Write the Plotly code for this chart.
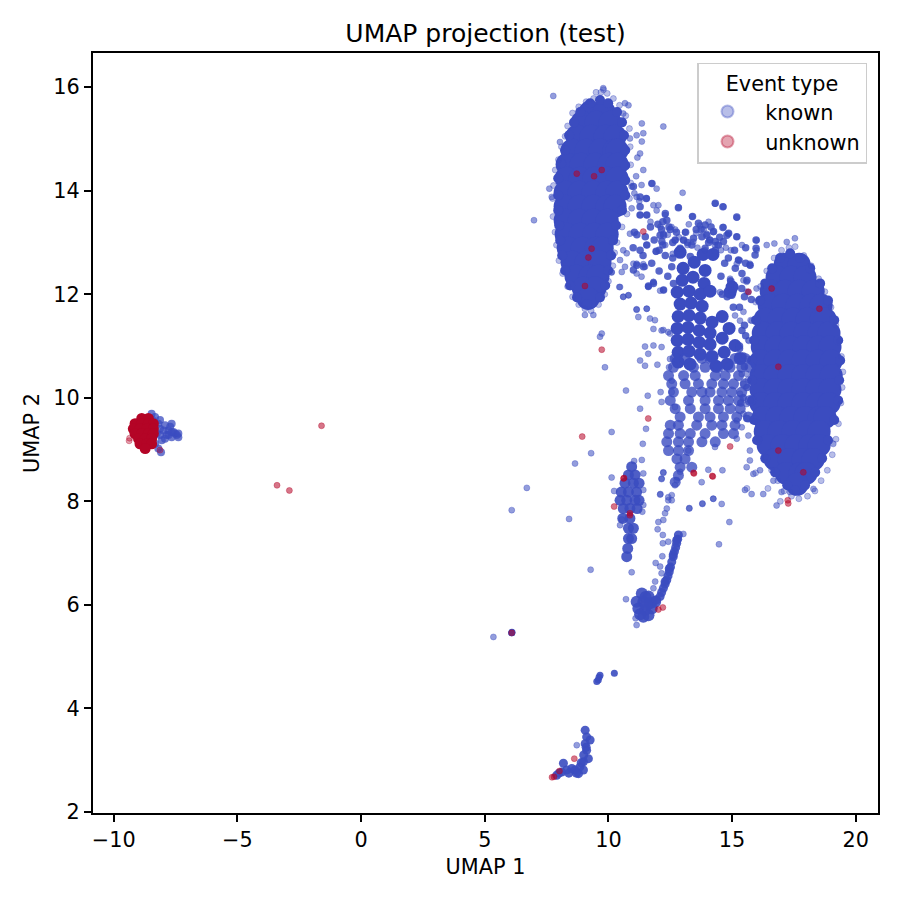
import plotly.graph_objects as go

TITLE = "UMAP projection (test)"
X_LABEL = "UMAP 1"
Y_LABEL = "UMAP 2"
LEGEND_TITLE = "Event type"
NAME_KNOWN = " \u200aknown"
NAME_UNKNOWN = " \u200aunknown"
X_TICKS = [-10, -5, 0, 5, 10, 15, 20]
Y_TICKS = [2, 4, 6, 8, 10, 12, 14, 16]

# dense upper cloud, read row by row
upper_rows_y = [15.52, 15.32, 15.05, 14.78, 14.51, 14.24, 13.97, 13.70, 13.43, 13.16, 12.89, 12.62, 12.35, 12.12, 11.92]
upper_rows_x = [
    [9.26, 9.83], [8.94, 9.50, 10.07], [8.73, 9.30, 9.87, 10.27], [8.53, 9.10, 9.66, 10.23, 10.35],
    [8.33, 8.90, 9.46, 10.03, 10.35], [8.29, 8.86, 9.42, 9.95, 10.35], [8.25, 8.82, 9.38, 9.95, 10.35],
    [8.25, 8.82, 9.38, 9.95, 10.27], [8.25, 8.82, 9.38, 9.95], [8.29, 8.86, 9.42, 9.95],
    [8.37, 8.94, 9.50, 9.75], [8.53, 9.10, 9.66], [8.69, 9.26, 9.58], [8.98, 9.46], [9.18],
]
upper_edge_x = [9.66, 9.26, 9.99, 8.86, 10.35, 8.61, 10.55, 8.41, 10.63, 8.25, 10.68, 8.09, 10.68, 7.97, 10.68, 7.97, 10.68, 7.97, 10.55, 8.01, 10.31, 8.05, 10.19, 8.13, 10.11, 8.25, 9.99, 8.45, 9.87, 8.73, 9.66, 9.14]
upper_edge_y = [15.75, 15.69, 15.69, 15.52, 15.52, 15.32, 15.32, 15.07, 15.07, 14.78, 14.78, 14.53, 14.49, 14.24, 14.20, 13.91, 13.91, 13.62, 13.62, 13.33, 13.33, 13.04, 13.04, 12.75, 12.75, 12.46, 12.46, 12.17, 12.17, 11.94, 11.94, 11.81]
upper_fringe_x = [9.5, 9.7, 9.8, 9.4, 9.1, 8.8, 8.55, 8.35, 8.25, 8.1, 7.98, 7.85, 7.78, 7.74, 7.76, 7.84, 7.9, 8.0, 8.15, 8.35, 8.55, 8.8, 9.05, 9.3, 9.6, 9.85, 10.0, 10.18, 10.25, 10.35, 10.55, 10.75, 10.85, 10.9, 10.9, 10.88, 10.85, 10.7, 10.45, 10.2, 9.95]
upper_fringe_y = [15.9, 15.9, 15.95, 15.78, 15.72, 15.62, 15.5, 15.25, 15.05, 14.85, 14.6, 14.4, 14.1, 13.85, 13.5, 13.2, 12.95, 12.65, 12.4, 12.15, 11.95, 11.8, 11.72, 11.68, 11.8, 12.0, 12.25, 12.55, 12.8, 13.0, 13.3, 13.55, 13.85, 14.15, 14.5, 14.85, 15.2, 15.45, 15.65, 15.78, 15.88]

# dense right cloud
right_rows_y = [12.58, 12.33, 12.06, 11.79, 11.52, 11.25, 10.98, 10.71, 10.43, 10.16, 9.89, 9.62, 9.35, 9.08, 8.81, 8.54, 8.33]
right_rows_x = [
    [17.15, 17.71], [16.82, 17.39, 17.95], [16.58, 17.15, 17.71, 18.28], [16.50, 17.06, 17.63, 18.20, 18.60],
    [16.34, 16.90, 17.47, 18.04, 18.60, 18.76], [16.26, 16.82, 17.39, 17.95, 18.52, 18.92],
    [16.22, 16.78, 17.35, 17.91, 18.48, 18.96], [16.17, 16.74, 17.31, 17.87, 18.44, 19.01],
    [16.17, 16.74, 17.31, 17.87, 18.44, 19.01], [16.17, 16.74, 17.31, 17.87, 18.44, 18.96],
    [16.17, 16.74, 17.31, 17.87, 18.44, 18.92], [16.26, 16.82, 17.39, 17.95, 18.52, 18.76],
    [16.34, 16.90, 17.47, 18.04, 18.52], [16.46, 17.02, 17.59, 18.16, 18.52], [16.74, 17.31, 17.87, 18.28],
    [17.19, 17.75, 17.99], [17.63],
]
right_edge_x = [17.35, 16.94, 17.75, 16.62, 18.16, 16.34, 18.56, 16.13, 18.88, 15.97, 19.13, 15.89, 19.29, 15.81, 19.37, 15.81, 19.33, 15.81, 19.29, 15.89, 19.13, 16.01, 18.88, 16.34, 18.64, 16.74, 18.36, 17.23, 17.95, 17.55]
right_edge_y = [12.79, 12.70, 12.70, 12.50, 12.50, 12.21, 12.21, 11.88, 11.88, 11.50, 11.50, 11.11, 11.11, 10.72, 10.72, 10.34, 10.34, 9.95, 9.95, 9.57, 9.57, 9.18, 9.18, 8.83, 8.83, 8.56, 8.56, 8.31, 8.31, 8.21]
right_fringe_x = [17.0, 17.3, 17.55, 17.9, 18.2, 18.5, 18.75, 19.0, 19.2, 19.35, 19.42, 19.48, 19.45, 19.4, 19.3, 19.2, 19.05, 18.85, 18.6, 18.35, 18.05, 17.7, 17.4, 17.1, 16.85, 16.6, 16.35, 16.1, 15.9, 15.75, 15.65, 15.62, 15.68, 15.75, 15.95, 16.15, 16.4, 16.7, 15.6, 15.95, 16.45, 16.95]
right_fringe_y = [12.85, 12.9, 12.92, 12.75, 12.55, 12.3, 12.05, 11.75, 11.4, 11.1, 10.8, 10.5, 10.2, 9.9, 9.5, 9.2, 8.9, 8.6, 8.4, 8.2, 8.1, 8.05, 8.1, 8.2, 8.4, 8.6, 8.85, 9.2, 9.55, 9.95, 10.35, 10.75, 11.1, 11.5, 11.85, 12.15, 12.45, 12.7, 8.25, 8.55, 8.25, 8.0]

# solid upper part of the central band
middle_solid_x = [12.90, 13.83, 14.23, 13.02, 13.47, 13.91, 12.98, 13.42, 13.87, 12.78, 13.26, 13.71, 14.11, 12.90, 13.34, 13.79, 12.82, 13.26, 13.71, 14.19, 12.78, 13.22, 13.67, 14.11, 14.60, 12.78, 13.22, 13.67, 14.11, 14.60, 12.82, 13.26, 13.71, 14.19, 14.68, 15.12, 12.82, 13.30, 14.35, 14.80, 15.33, 14.88, 14.92, 15.00]
middle_solid_y = [12.81, 12.77, 12.77, 12.50, 12.62, 12.46, 12.27, 12.33, 12.21, 12.04, 12.06, 12.00, 12.06, 11.81, 11.83, 11.77, 11.57, 11.59, 11.54, 11.46, 11.34, 11.36, 11.30, 11.25, 11.57, 11.11, 11.13, 11.07, 11.03, 11.15, 10.88, 10.90, 10.84, 10.80, 10.88, 11.01, 10.69, 10.65, 10.61, 10.65, 10.76, 11.34, 12.04, 12.14]

# blotchy lower part of the central band
middle_rows_y = [10.76, 10.59, 10.43, 10.27, 10.11, 9.95, 9.79, 9.63, 9.47, 9.31, 9.15, 8.98, 8.82, 8.66, 8.50, 8.37]
middle_rows_x = [
    [12.70, 13.10, 13.78, 14.11, 15.12, 15.53], [12.63, 13.44, 13.91, 14.45, 14.92, 15.39, 15.73],
    [12.43, 13.04, 13.51, 14.32, 14.72, 15.26], [12.56, 13.10, 13.64, 14.18, 14.65, 15.06, 15.53],
    [12.63, 13.37, 13.78, 14.11, 14.59, 14.99, 15.39], [12.50, 13.24, 13.91, 14.45, 14.85, 15.26, 15.73],
    [12.70, 13.31, 13.91, 14.45, 14.92, 15.33], [12.90, 13.64, 14.11, 14.65, 15.19, 15.66],
    [12.50, 12.83, 13.57, 14.18, 14.59, 15.12], [12.43, 12.90, 13.31, 13.91, 14.65, 15.06],
    [12.36, 12.83, 13.24, 13.78, 14.32], [12.43, 12.83, 13.24], [12.77, 13.10], [12.90, 13.37], [12.83], [12.70],
]

# thin strands between the two large clouds
strand_x = [11.76, 11.01, 11.28, 11.53, 11.28, 11.28, 11.55, 12.3, 12.36, 12.83, 14.32, 14.63, 15.19, 13.4, 13.64, 13.91, 14.63, 14.86, 14.79, 14.25, 13.98, 13.78, 13.44, 13.04, 12.7, 12.23, 12.09, 12.16, 11.49, 11.55, 11.28, 11.93, 12.9, 12.9, 13.37, 13.91, 14.32, 14.65, 15.19, 15.97, 15.97, 15.93, 15.26, 15.13, 15.73, 15.6, 14.92, 14.99, 15.39, 11.15, 11.42, 11.01, 11.82, 12.56, 12.23, 11.62, 14.25, 14.32, 12.63, 13.31, 12.45, 12.2, 13.12, 14.1, 14.95, 15.78, 15.5, 15.3,
            12.0, 12.15, 12.5, 12.6, 12.75, 13.2, 13.55, 13.75, 14.05, 14.15, 14.5, 14.45, 14.7, 14.85, 15.1, 15.55, 15.55, 11.05, 11.0, 11.4, 11.75, 12.05, 12.4, 11.15, 11.7, 11.85, 12.05, 12.3, 12.6, 12.2, 14.55, 14.8, 15.05, 15.3, 15.5, 15.4, 14.6, 15.55, 15.4, 15.3, 15.5, 15.6, 15.45, 15.6, 15.35]
strand_y = [14.14, 14.08, 13.88, 13.85, 13.69, 13.53, 13.53, 13.56, 13.43, 13.67, 13.76, 13.69, 13.49, 13.5, 13.37, 13.34, 13.29, 13.18, 13.14, 13.21, 13.14, 13.11, 13.08, 13.05, 13.05, 13.14, 13.14, 13.02, 13.11, 12.95, 12.85, 12.83, 12.89, 12.79, 12.95, 12.89, 13.02, 13.02, 13.11, 13.05, 12.89, 12.76, 12.66, 12.5, 12.56, 12.27, 12.15, 11.98, 12.11, 12.56, 12.53, 12.47, 12.21, 12.53, 12.08, 12.16, 12.73, 12.85, 12.21, 12.73, 13.3, 13.4, 13.2, 13.05, 12.25, 11.9, 11.4, 10.95,
            13.35, 13.25, 13.25, 13.0, 13.2, 13.0, 13.25, 13.25, 13.0, 13.3, 13.1, 12.95, 12.6, 12.7, 12.85, 12.9, 12.6, 13.2, 12.9, 12.75, 12.6, 12.45, 12.35, 13.15, 13.3, 13.05, 12.85, 12.75, 12.7, 12.95, 12.35, 11.95, 11.75, 11.75, 11.95, 12.4, 12.0, 11.2, 11.3, 11.0, 10.6, 10.2, 10.0, 9.6, 9.9]

# columns and blobs below the band
column_rows_y = [8.67, 8.51, 8.35, 8.18, 8.02, 7.86, 7.67, 7.48, 7.28, 7.09, 6.93]
column_rows_x = [[10.94], [10.81, 11.08], [10.67, 11.01, 11.24], [10.52, 10.81, 11.14], [10.47, 10.74, 11.08, 11.24], [10.60, 10.87, 11.16], [10.58, 10.87], [10.81, 11.01], [10.81, 10.94], [10.78], [10.74]]
diagonal_x = [12.83, 12.80, 12.76, 12.72, 12.67, 12.62, 12.56, 12.51, 12.46, 12.41, 12.36, 12.29, 12.22, 12.15, 12.09, 11.95, 11.82, 12.76, 12.62, 12.46, 12.29]
diagonal_y = [7.35, 7.27, 7.19, 7.11, 7.03, 6.93, 6.83, 6.73, 6.64, 6.56, 6.48, 6.40, 6.32, 6.24, 6.16, 6.10, 6.06, 7.25, 6.97, 6.70, 6.45]
blob_x = [11.35, 11.62, 11.14, 11.41, 11.68, 11.89, 11.21, 11.48, 11.75, 11.41, 11.62, 11.28, 11.55, 11.5]
blob_y = [6.22, 6.16, 6.06, 6.06, 6.03, 6.06, 5.93, 5.90, 5.93, 5.77, 5.80, 5.82, 6.0, 6.15]
lower_x = [9.06, 9.12, 9.26, 9.06, 9.12, 9.19, 8.99, 8.85, 8.99, 8.79, 8.52, 8.31, 8.11, 8.65, 7.91, 8.18, 9.1, 9.0, 8.9, 8.7, 8.4, 8.0]
lower_y = [3.58, 3.45, 3.39, 3.32, 3.19, 3.03, 2.97, 2.87, 2.81, 2.74, 2.84, 2.81, 2.77, 2.81, 2.71, 2.94, 3.25, 3.1, 2.95, 2.75, 2.75, 2.75]
small_x = [9.59, 9.66, 9.53, 9.62, 10.24, 6.09, 6.09, 6.10]
small_y = [4.55, 4.64, 4.52, 4.6, 4.68, 5.46, 5.46, 5.47]

# scattered single points
loose_x = [10.67, 10.81, 10.6, 11.35, 12.22, 11.14, 11.41, 10.87, 11.35, 11.28, 11.17, 11.41, 11.12, 10.94, 11.34, 11.75, 11.95, 11.14, 11.55, 13.0, 10.94, 11.28, 11.55, 11.82, 12.02, 12.29, 12.83, 14.31, 14.65, 15.19, 13.39, 13.7, 14.65, 14.85, 13.97, 12.22, 10.87, 11.55, 11.92, 12.69, 13.03, 13.43, 14.24, 15.19, 15.99, 16.4, 16.71, 17.21, 17.54, 15.99, 10.6, 10.74, 10.47, 11.14, 11.48, 10.67, 11.34, 11.82, 10.13, 10.47, 11.61, 12.22, 15.25, 15.72, 14.92, 15.59, 14.98, 15.59, 15.99, 11.14, 11.55, 10.6, 10.81, 9.05, 9.39, 9.73, 11.88, 12.22, 12.49, 9.66, 9.79, 7.77, 6.99, 7.61, 7.71, 8.04,
           12.4, 12.55, 12.7, 12.85, 13.1, 13.25, 13.55, 13.85, 14.1, 14.4, 14.75, 14.55, 14.3, 13.9, 13.6, 13.2, 12.9, 12.6, 12.3, 12.1, 11.7, 11.95, 11.25, 11.05, 14.05, 14.95, 15.4,
           15.66, 15.46, 15.72, 15.32, 14.92, 14.98, 15.19, 15.46, 15.79, 15.66, 15.46, 15.59, 15.46, 15.59, 15.46, 15.66, 15.72, 15.72, 15.59, 15.86, 16.13, 15.52, 15.79, 16.26, 16.8, 17.0, 16.67, 17.34, 18.29, 19.09,
           13.77, 14.04, 14.61, 14.24, 14.58, 13.8, 13.27, 14.89, 12.09, 11.28, 10.71, 10.13, 11.52, 11.39, 9.86, 12.11, 11.59, 12.15, 11.48, 11.82, 12.15, 11.61, 11.28, 11.48, 11.98, 12.45, 11.21, 11.14, 11.55, 11.82, 12.15, 12.42, 11.68, 10.6, 10.81, 10.44, 10.13, 10.54, 11.14, 11.41, 11.01, 12.09, 11.82, 11.61,
           14.51, 14.98, 15.32, 15.12, 15.25, 15.39, 15.32, 15.19, 15.39, 15.19, 14.31, 13.23, 12.56, 12.49, 12.56, 12.69, 12.22, 12.15, 12.42, 12.56,
           10.13, 10.23, 11.35, 11.04, 11.41, 11.41, 11.41, 11.37, 10.47, 10.54,
           11.14, 11.10, 10.71, 10.94, 13.03, 12.42, 12.2, 12.18, 11.91, 12.09, 12.15, 11.89, 11.82, 11.99, 12.2, 12.02, 12.22, 12.36, 12.29, 12.42, 12.56, 12.69, 12.76, 12.9, 12.1, 13.27, 13.8, 14.24, 14.47, 12.22, 12.15,
           8.65, 9.3, 6.7, 6.09, 8.41, 9.28, 5.35, 8.72]
loose_y = [15.69, 15.65, 15.49, 15.3, 15.24, 15.07, 15.11, 15.01, 14.95, 14.72, 14.64, 14.4, 14.28, 14.08, 14.11, 14.14, 14.04, 13.88, 13.85, 13.96, 13.66, 13.53, 13.53, 13.72, 13.72, 13.53, 13.68, 13.75, 13.69, 13.48, 13.5, 13.33, 13.3, 13.17, 13.17, 13.17, 13.17, 12.95, 12.82, 13.04, 13.04, 13.01, 13.2, 13.11, 13.04, 12.95, 12.98, 13.01, 13.08, 12.85, 12.85, 12.79, 12.66, 12.59, 12.53, 12.53, 12.34, 12.24, 12.43, 12.14, 12.14, 12.08, 12.66, 12.59, 12.27, 12.24, 12.08, 12.05, 12.11, 11.71, 11.72, 11.95, 11.98, 11.6, 11.6, 11.24, 11.5, 11.31, 11.24, 11.18, 15.98, 15.83, 13.43, 14.04, 13.88, 14.94,
           13.15, 13.3, 13.25, 13.1, 13.2, 13.35, 13.18, 13.25, 13.05, 12.95, 12.9, 12.85, 12.95, 12.85, 12.9, 12.95, 12.88, 12.78, 12.95, 13.3, 13.4, 13.62, 13.8, 13.95, 13.4, 12.85, 12.95,
           12.04, 12.27, 12.56, 12.65, 12.3, 12.04, 12.59, 11.66, 11.49, 11.11, 10.82, 10.46, 10.27, 9.88, 9.69, 9.27, 8.98, 8.79, 8.66, 8.53, 8.6, 8.22, 8.14, 8.14, 7.92, 8.18, 8.4, 8.18, 8.24, 9.11,
           8.37, 8.61, 8.6, 8.05, 7.95, 7.95, 7.87, 7.6, 8.13, 9.79, 10.14, 9.34, 9.4, 9.11, 10.59, 10.11, 10.04, 9.92, 10.99, 11.01, 10.98, 10.85, 10.72, 10.62, 10.64, 10.59, 11.56, 11.7, 11.72, 11.33, 11.3, 11.27, 11.53, 11.95, 11.98, 12.14, 12.42, 12.43, 12.4, 12.58, 12.59, 12.07, 12.23, 12.15,
           12.04, 12.2, 11.49, 11.59, 10.82, 10.46, 10.08, 9.56, 9.43, 9.21, 9.05, 8.98, 10.33, 10.75, 10.11, 9.82, 8.56, 8.43, 8.08, 8.02,
           8.46, 8.2, 8.80, 8.78, 8.54, 8.22, 7.93, 7.8, 7.54, 7.65,
           5.61, 5.74, 6.11, 6.63, 7.37, 7.22, 7.19, 6.94, 6.81, 6.74, 6.61, 6.45, 6.32, 7.46, 7.35, 7.6, 7.64, 7.86, 7.77, 8.02, 8.12, 8.31, 8.41, 8.57, 8.14, 7.86, 7.96, 8.05, 7.17, 8.55, 8.44,
           8.73, 8.93, 8.26, 7.83, 7.66, 6.68, 5.38, 3.29]

# compact cloud on the left
left_blue_x = [-8.47, -8.44, -8.13, -7.93, -8.13, -7.79, -7.59, -7.45, -7.86, -8.06, -7.66, -7.39, -8.13, -7.66, -8.09, -8.33, -8.2, -7.99, -8.26, -7.72, -7.52, -7.93, -8.33, -8.2, -7.79, -7.66, -7.39]
left_blue_y = [9.69, 9.57, 9.57, 9.47, 9.40, 9.37, 9.34, 9.28, 9.28, 9.18, 9.24, 9.24, 9.28, 9.50, 8.95, 9.63, 9.5, 9.37, 9.31, 9.44, 9.31, 9.21, 9.11, 9.02, 9.28, 9.34, 9.31]
left_red_rows_y = [9.60, 9.50, 9.40, 9.31, 9.21, 9.11, 9.02]
left_red_rows_x = [[-8.87, -8.60], [-9.14, -8.87, -8.60, -8.40], [-9.21, -8.94, -8.67, -8.40], [-9.14, -8.87, -8.60, -8.40], [-9.00, -8.73, -8.47], [-8.94, -8.67, -8.47], [-8.73]]
left_red_solo_x = [-9.38, -9.36, -8.13]
left_red_solo_y = [9.17, 9.22, 8.99]

# events of the unknown type outside the left cloud
unknown_x = [-1.6, -3.4, -2.9, 8.72, 9.42, 9.73, 9.32, 9.19, 9.05, 11.41, 15.66, 16.6, 18.53, 9.73, 16.87, 16.87, 17.88, 17.25, 17.27, 14.92, 11.61, 8.94, 13.46, 14.22, 10.63, 10.87, 10.23, 10.61, 12.02, 12.2, 13.44, 14.2, 10.87, 8.02, 7.8, 8.62, 7.72, 6.09]
unknown_y = [9.46, 8.31, 8.21, 14.33, 14.28, 14.4, 12.88, 12.71, 12.16, 13.21, 12.05, 12.11, 11.72, 10.93, 10.6, 8.98, 8.56, 8.02, 7.96, 9.06, 9.6, 9.25, 8.54, 8.48, 8.45, 7.73, 7.9, 8.44, 5.91, 5.95, 8.55, 8.49, 7.77, 2.79, 2.68, 3.03, 2.67, 5.46]

BLUE = "#3b4cc0"
RED = "#b40426"
BLUE_A = "rgba(59,76,192,0.36)"
BLUE_LOOSE = "rgba(59,76,192,0.55)"
RED_A = "rgba(180,4,38,0.36)"
RED_LOOSE = "rgba(180,4,38,0.55)"


def flatten(rows_y, rows_x):
    xs, ys = [], []
    for y, row in zip(rows_y, rows_x):
        for x in row:
            xs.append(x)
            ys.append(y)
    return xs, ys


def points(x, y, size, color, line=None, **kw):
    return go.Scatter(x=x, y=y, mode="markers", hoverinfo="skip", showlegend=kw.pop("showlegend", False),
                      marker=dict(size=size, color=color, line=dict(color=line or color, width=1 if line else 0)), **kw)


fig = go.Figure()
for rows in ((upper_rows_y, upper_rows_x), (right_rows_y, right_rows_x)):
    fig.add_trace(points(*flatten(*rows), 23, BLUE))
fig.add_trace(points(upper_edge_x + right_edge_x, upper_edge_y + right_edge_y, 10, BLUE))
fig.add_trace(points(middle_solid_x, middle_solid_y, 13, BLUE))
fig.add_trace(points(*flatten(middle_rows_y, middle_rows_x), 11, "rgba(59,76,192,0.8)"))
fig.add_trace(points(strand_x, strand_y, 7.5, "rgba(59,76,192,0.85)"))
fig.add_trace(points(*flatten(column_rows_y, column_rows_x), 11, "rgba(59,76,192,0.9)"))
fig.add_trace(points(diagonal_x, diagonal_y, 9, "rgba(59,76,192,0.9)"))
fig.add_trace(points(blob_x, blob_y, 12, "rgba(59,76,192,0.9)"))
fig.add_trace(points(lower_x, lower_y, 9, "rgba(59,76,192,0.9)"))
fig.add_trace(points(small_x, small_y, 7, "rgba(59,76,192,0.9)"))
fig.add_trace(points(upper_fringe_x + right_fringe_x, upper_fringe_y + right_fringe_y,
                     6, BLUE_A, BLUE_A, name=NAME_KNOWN, showlegend=True))
fig.add_trace(points(loose_x, loose_y, 6, BLUE_LOOSE, BLUE_A))
fig.add_trace(points(left_blue_x, left_blue_y, 8, "rgba(59,76,192,0.75)"))
fig.add_trace(points(*flatten(left_red_rows_y, left_red_rows_x), 11, RED))
fig.add_trace(points(left_red_solo_x, left_red_solo_y, 6, RED_A, RED_A, name=NAME_UNKNOWN, showlegend=True))
fig.add_trace(points(unknown_x, unknown_y, 6, RED_LOOSE, RED_A))

fig.update_layout(
    width=900, height=900, autosize=False,
    margin=dict(l=85, r=30, t=45, b=95),
    plot_bgcolor="white", paper_bgcolor="white",
    font=dict(family="DejaVu Sans", size=20.8, color="black"),
    title=dict(text=TITLE, x=0.5, xref="paper", y=1 - 25 / 900, yref="container", yanchor="middle",
               xanchor="center", font=dict(size=25)),
    legend=dict(x=0.986, y=0.987, xanchor="right", yanchor="top", bordercolor="#cccccc", borderwidth=1.5,
                bgcolor="rgba(255,255,255,0.8)", itemsizing="constant", itemwidth=48,
                title=dict(text=LEGEND_TITLE, side="top center", font=dict(size=20.8)), font=dict(size=20.8), tracegroupgap=0),
)
axis = dict(showgrid=False, zeroline=False, showline=True, mirror=True, linecolor="black", linewidth=1.67,
            ticks="outside", ticklen=7.3, tickwidth=1.67, tickcolor="black")
fig.update_xaxes(range=[-10.84, 20.9], tickvals=X_TICKS, title=dict(text=X_LABEL, standoff=8, font=dict(size=20.8)), **axis)
fig.update_yaxes(range=[1.98, 16.66], tickvals=Y_TICKS, title=dict(text=Y_LABEL, standoff=8, font=dict(size=20.8)), **axis)

fig.write_html("out.html")
